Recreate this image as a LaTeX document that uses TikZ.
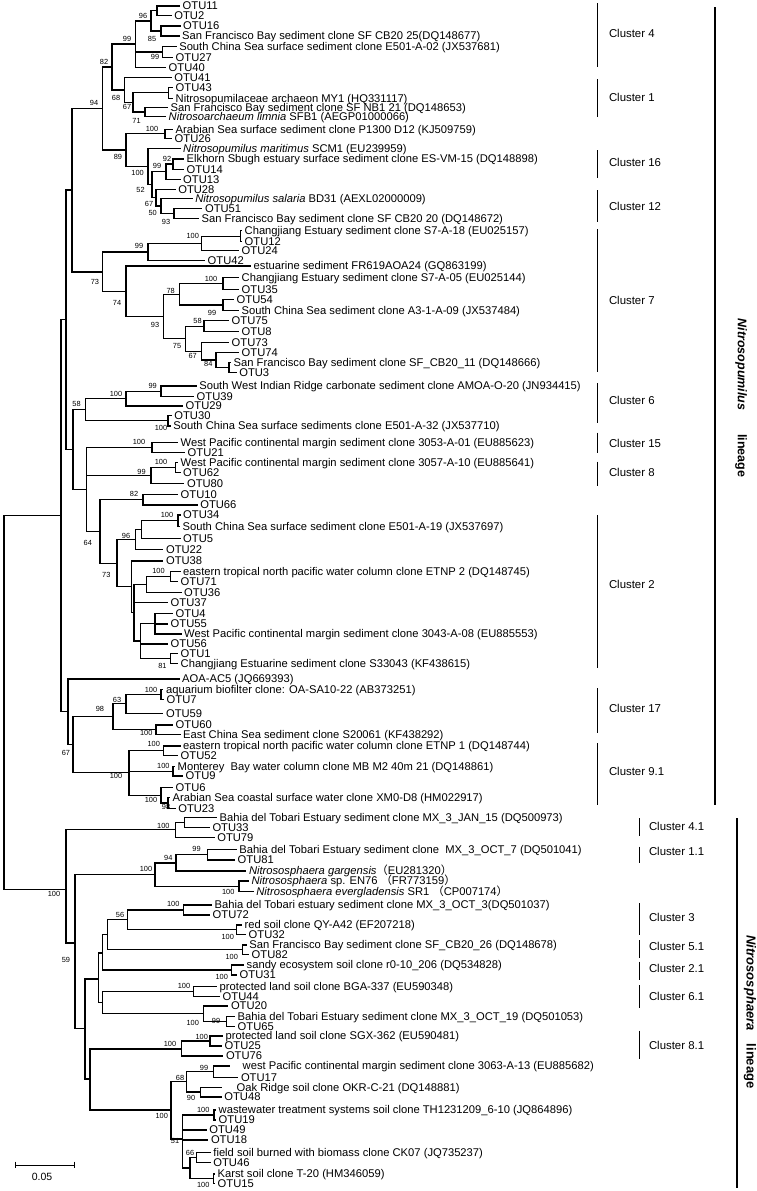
\documentclass[tikz,border=0pt]{standalone}
\usepackage{fontspec}
\setmainfont{Liberation Sans}
\newfontfamily\linfont{Liberation Sans}
\newfontfamily\cjkfont{Noto Sans CJK SC}
\newcommand{\fw}[1]{\smash{{\cjkfont #1}}}
\newcommand{\lf}[4]{\coordinate (#1) at (#2,#3); \node[leaflab] (#1-t) at (#1) {#4};}
\newcommand{\lfx}[5]{\coordinate (#1) at (#2,#3); \node[leaflab,xshift=0pt] (#1-t) at (#4,#3) {#5};}
\newcommand{\nd}[3]{\coordinate (#1) at (#2,#3);}
\newcommand{\kids}[2]{\foreach \ch in {#2} {\draw[branch] (#1) |- (\ch);}}
\newcommand{\bsv}[4]{\node[bsl] (#1) at (#2,#3) {#4};}
\newcommand{\clu}[7]{\coordinate (#1-a) at (#2,#3); \coordinate (#1-b) at (#2,#4); \draw[cbar] (#1-a) -- (#1-b); \node[clab] (#1-l) at (#5,#6) {#7};}
\begin{document}
\begin{tikzpicture}[x=1pt,y=-1pt,
  branch/.style={line width=1.1pt},
  leaflab/.style={anchor=base west,inner sep=0pt,xshift=2.5pt,yshift=-3.9pt,font=\fontsize{11.2}{13}\selectfont},
  bsl/.style={inner sep=0pt,font=\fontsize{7.4}{9}\selectfont},
  clab/.style={anchor=west,inner sep=0pt,font=\fontsize{11.4}{13}\selectfont},
  cbar/.style={line width=0.9pt},
  lbar/.style={line width=1.8pt},
  linlab/.style={rotate=-90,inner sep=0pt,font=\linfont\bfseries\fontsize{12.5}{14}\selectfont}]
\fill[white] (0,0) rectangle (757,1191);
\useasboundingbox (0,0) rectangle (757,1191);
% ---------------- leaves: Nitrosopumilus
\lf{otu11}{180}{6}{OTU11}
\lf{otu2}{171.7}{15.7}{OTU2}
\lf{otu16}{180.5}{26}{OTU16}
\lf{sfcb2025}{179.5}{36}{San Francisco Bay sediment clone SF CB20 25(DQ148677)}
\lf{scs02}{176.6}{46.7}{South China Sea surface sediment clone E501-A-02 (JX537681)}
\lf{otu27}{173}{57.3}{OTU27}
\lf{otu40}{166}{67.3}{OTU40}
\lf{otu41}{171.7}{77.7}{OTU41}
\lf{otu43}{173}{87.3}{OTU43}
\lf{my1}{173}{98.3}{Nitrosopumilaceae archaeon MY1 (HQ331117)}
\lf{sfnb}{168}{107.3}{San Francisco Bay sediment clone SF NB1 21 (DQ148653)}
\lf{limnia}{166}{116.7}{\textit{Nitrosoarchaeum limnia} SFB1 (AEGP01000066)}
\lf{p1300}{173}{129.3}{Arabian Sea surface sediment clone P1300 D12 (KJ509759)}
\lf{otu26}{172}{138.3}{OTU26}
\lf{scm1}{180.5}{148.3}{\textit{Nitrosopumilus maritimus} SCM1 (EU239959)}
\lf{elk}{184}{159}{Elkhorn Sbugh estuary surface sediment clone ES-VM-15 (DQ148898)}
\lf{otu14}{184}{169.3}{OTU14}
\lf{otu13}{180.5}{179.3}{OTU13}
\lf{otu28}{175.6}{189.3}{OTU28}
\lf{bd31}{192.7}{198.5}{\textit{Nitrosopumilus salaria} BD31 (AEXL02000009)}
\lf{otu51}{202.4}{208.5}{OTU51}
\lf{sfcb2020}{199}{218.8}{San Francisco Bay sediment clone SF CB20 20 (DQ148672)}
\lf{s7a18}{242}{230.7}{Changjiang Estuary sediment clone S7-A-18 (EU025157)}
\lf{otu12}{242}{241.7}{OTU12}
\lf{otu24}{239}{250.7}{OTU24}
\lf{otu42}{205}{260.7}{OTU42}
\lf{fr619}{251}{266}{estuarine sediment FR619AOA24 (GQ863199)}
\lf{s7a05}{239}{277.3}{Changjiang Estuary sediment clone S7-A-05 (EU025144)}
\lf{otu35}{239}{289.3}{OTU35}
\lf{otu54}{234}{299.3}{OTU54}
\lf{a3}{239}{310.7}{South China Sea sediment clone A3-1-A-09 (JX537484)}
\lf{otu75}{229}{320.7}{OTU75}
\lf{otu8}{239}{331.7}{OTU8}
\lf{otu73}{229}{342.7}{OTU73}
\lf{otu74}{239}{352.7}{OTU74}
\lf{sfcb2011}{231}{362.3}{San Francisco Bay sediment clone SF\_CB20\_11 (DQ148666)}
\lf{otu3}{236.6}{372.7}{OTU3}
\lf{swir}{196.6}{386}{South West Indian Ridge carbonate sediment clone AMOA-O-20 (JN934415)}
\lf{otu39}{194}{396.2}{OTU39}
\lf{otu29}{183}{406}{OTU29}
\lf{otu30}{171.7}{415.5}{OTU30}
\lf{scs32}{170.7}{426}{South China Sea surface sediments clone E501-A-32 (JX537710)}
\lf{wp3053}{178}{442.3}{West Pacific continental margin sediment clone 3053-A-01 (EU885623)}
\lf{otu21}{185}{452.7}{OTU21}
\lf{wp3057}{178}{462.3}{West Pacific continental margin sediment clone 3057-A-10 (EU885641)}
\lf{otu62}{180.5}{472.3}{OTU62}
\lf{otu80}{184.4}{483.3}{OTU80}
\lf{otu10}{178}{494.3}{OTU10}
\lf{otu66}{197.6}{505}{OTU66}
\lf{otu34}{180.5}{515}{OTU34}
\lf{scs19}{180}{526.7}{South China Sea surface sediment clone E501-A-19 (JX537697)}
\lf{otu5}{180.5}{538.3}{OTU5}
\lf{otu22}{163.4}{549.3}{OTU22}
\lf{otu38}{163.4}{561}{OTU38}
\lf{etnp2}{180.5}{571.7}{eastern tropical north pacific water column clone ETNP 2 (DQ148745)}
\lf{otu71}{178}{581.7}{OTU71}
\lf{otu36}{181.5}{592.7}{OTU36}
\lf{otu37}{168}{602.3}{OTU37}
\lf{otu4}{173}{613.3}{OTU4}
\lf{otu55}{168}{624}{OTU55}
\lf{wp3043}{181.5}{634}{West Pacific continental margin sediment clone 3043-A-08 (EU885553)}
\lf{otu56}{168}{644}{OTU56}
\lf{otu1}{178}{653.3}{OTU1}
\lf{s33043}{178}{663.3}{Changjiang Estuarine sediment clone S33043 (KF438615)}
\lf{ac5}{179.5}{679}{AOA-AC5 (JQ669393)}
\lf{oasa}{163.4}{689.3}{aquarium biofilter clone: OA-SA10-22 (AB373251)}
\lf{otu7}{164}{699.3}{OTU7}
\lf{otu59}{163.4}{713.3}{OTU59}
\lf{otu60}{173}{725}{OTU60}
\lf{s20061}{180.5}{734.3}{East China Sea sediment clone S20061 (KF438292)}
\lf{etnp1}{180.5}{746}{eastern tropical north pacific water column clone ETNP 1 (DQ148744)}
\lf{otu52}{178}{755.5}{OTU52}
\lf{mb}{175}{766.7}{Monterey\ \ Bay water column clone MB M2 40m 21 (DQ148861)}
\lf{otu9}{183}{776}{OTU9}
\lf{otu6}{173}{787.3}{OTU6}
\lf{xm0}{170}{797.7}{Arabian Sea coastal surface water clone XM0-D8 (HM022917)}
\lf{otu23}{175.6}{808.3}{OTU23}
% ---------------- leaves: Nitrososphaera
\lf{jan15}{217}{817.3}{Bahia del Tobari Estuary sediment clone MX\_3\_JAN\_15 (DQ500973)}
\lf{otu33}{209.8}{827.3}{OTU33}
\lf{otu79}{214.6}{837.3}{OTU79}
\lf{oct7}{236.6}{849.7}{Bahia del Tobari Estuary sediment clone\ \ MX\_3\_OCT\_7 (DQ501041)}
\lf{otu81}{235}{860}{OTU81}
\lf{garg}{246.3}{871}{\textit{Nitrososphaera gargensis}\fw{（}EU281320\fw{）}}
\lf{en76}{248.8}{881}{\textit{Nitrososphaera} sp. EN76 \fw{（}FR773159\fw{）}}
\lf{sr1}{253.7}{891.8}{\textit{Nitrososphaera evergladensis} SR1 \fw{（}CP007174\fw{）}}
\lf{oct3}{212}{905}{Bahia del Tobari estuary sediment clone MX\_3\_OCT\_3(DQ501037)}
\lf{otu72}{210}{915}{OTU72}
\lf{qy}{242}{925}{red soil clone QY-A42 (EF207218)}
\lf{otu32}{246}{934.5}{OTU32}
\lf{cb2026}{246.7}{945}{San Francisco Bay sediment clone SF\_CB20\_26 (DQ148678)}
\lf{otu82}{249}{954.5}{OTU82}
\lf{sandy}{244}{965}{sandy ecosystem soil clone r0-10\_206 (DQ534828)}
\lf{otu31}{237}{975}{OTU31}
\lf{bga}{217}{986.8}{protected land soil clone BGA-337 (EU590348)}
\lf{otu44}{220}{996.3}{OTU44}
\lf{otu20}{228.3}{1006}{OTU20}
\lf{oct19}{235}{1016.7}{Bahia del Tobari Estuary sediment clone MX\_3\_OCT\_19 (DQ501053)}
\lf{otu65}{235}{1026.3}{OTU65}
\lf{sgx}{223}{1036}{protected land soil clone SGX-362 (EU590481)}
\lf{otu25}{222}{1046}{OTU25}
\lf{otu76}{223.3}{1056}{OTU76}
\lfx{wp3063}{230}{1066}{240}{west Pacific continental margin sediment clone 3063-A-13 (EU885682)}
\lf{otu17}{238.3}{1077.3}{OTU17}
\lfx{okr}{221.7}{1087.3}{234}{Oak Ridge soil clone OKR-C-21 (DQ148881)}
\lf{otu48}{221.7}{1097}{OTU48}
\lf{th}{216}{1110}{wastewater treatment systems soil clone TH1231209\_6-10 (JQ864896)}
\lf{otu19}{216}{1120}{OTU19}
\lf{otu49}{206.7}{1130}{OTU49}
\lf{otu18}{208.3}{1140}{OTU18}
\lf{ck07}{210.7}{1152.3}{field soil burned with biomass clone CK07 (JQ735237)}
\lf{otu46}{210.7}{1162.3}{OTU46}
\lf{karst}{215}{1174}{Karst soil clone T-20 (HM346059)}
\lf{otu15}{215}{1183.5}{OTU15}
% ---------------- internal nodes
\nd{n96}{157}{10.9} \kids{n96}{otu11,otu2}
\nd{n85}{161}{31} \kids{n85}{otu16,sfcb2025}
\nd{nA}{151}{21} \kids{nA}{n96,n85}
\nd{n99b}{162.4}{52} \kids{n99b}{scs02,otu27}
\nd{n99}{135.6}{44} \kids{n99}{nA,n99b,otu40}
\nd{nMY}{168.3}{92.8} \kids{nMY}{otu43,my1}
\nd{n71}{145}{112} \kids{n71}{sfnb,limnia}
\nd{n67}{133}{102.4} \kids{n67}{nMY,n71}
\nd{n68}{124.4}{90} \kids{n68}{otu41,n67}
\nd{n82}{112}{67} \kids{n82}{n99,n68}
\nd{n100a}{165}{133.8} \kids{n100a}{p1300,otu26}
\nd{n92}{173}{164} \kids{n92}{elk,otu14}
\nd{n99c}{166}{171.7} \kids{n99c}{n92,otu13}
\nd{n93}{174}{213.6} \kids{n93}{otu51,sfcb2020}
\nd{n50}{161}{206} \kids{n50}{bd31,n93}
\nd{n67s}{156}{197.6} \kids{n67s}{otu28,n50}
\nd{n52}{152}{184.6} \kids{n52}{n99c,n67s}
\nd{n100b}{148}{166.4} \kids{n100b}{scm1,n52}
\nd{n89}{126}{150} \kids{n89}{n100a,n100b}
\nd{n94}{102.4}{108.5} \kids{n94}{n82,n89}
\nd{nS7}{240.5}{236.2} \kids{nS7}{s7a18,otu12}
\nd{n100c}{201.5}{243.5} \kids{n100c}{nS7,otu24}
\nd{n99d}{148}{252} \kids{n99d}{n100c,otu42}
\nd{n100d}{223}{283.3} \kids{n100d}{s7a05,otu35}
\nd{n99e}{223}{305} \kids{n99e}{otu54,a3}
\nd{n78}{179.5}{294.2} \kids{n78}{n100d,n99e}
\nd{n58}{204}{326.2} \kids{n58}{otu75,otu8}
\nd{nSF}{229}{367.5} \kids{nSF}{sfcb2011,otu3}
\nd{n84}{216}{360} \kids{n84}{otu74,nSF}
\nd{n67b}{201.5}{351.4} \kids{n67b}{otu73,n84}
\nd{n75}{185.4}{338.8} \kids{n75}{n58,n67b}
\nd{n93b}{163.4}{316.5} \kids{n93b}{n78,n75}
\nd{n74}{126}{291.8} \kids{n74}{fr619,n93b}
\nd{n73}{102.4}{272} \kids{n73}{n99d,n74}
\nd{P}{72}{190} \kids{P}{n94,n73}
\nd{n99f}{161}{391.1} \kids{n99f}{swir,otu39}
\nd{n100e}{126}{398.5} \kids{n100e}{n99f,otu29}
\nd{n100f}{168}{420.7} \kids{n100f}{otu30,scs32}
\nd{n58b}{85.4}{409.6} \kids{n58b}{n100e,n100f}
\nd{n100g}{152}{447.5} \kids{n100g}{wp3053,otu21}
\nd{n100h}{175.6}{467.3} \kids{n100h}{wp3057,otu62}
\nd{n99g}{151}{475.3} \kids{n99g}{n100h,otu80}
\nd{n82b}{143}{499.7} \kids{n82b}{otu10,otu66}
\nd{n100i}{178}{520.9} \kids{n100i}{otu34,scs19}
\nd{nB}{141.5}{529.6} \kids{nB}{n100i,otu5}
\nd{n96b}{135.6}{539.5} \kids{n96b}{nB,otu22}
\nd{n100j}{170.7}{576.7} \kids{n100j}{etnp2,otu71}
\nd{nE}{146.3}{584.7} \kids{nE}{n100j,otu36}
\nd{nG}{155}{623.7} \kids{nG}{otu4,otu55,wp3043}
\nd{n81}{170.7}{658.3} \kids{n81}{otu1,s33043}
\nd{nF}{140.5}{641} \kids{nF}{nG,otu56,n81}
\nd{nD}{134}{612.8} \kids{nD}{nE,otu37,nF}
\nd{nC}{131.7}{586.9} \kids{nC}{otu38,nD}
\nd{n73b}{117}{563.2} \kids{n73b}{n96b,nC}
\nd{n64}{100}{531.5} \kids{n64}{n82b,n73b}
\nd{U}{86.8}{489.5} \kids{U}{n100g,n99g,n64}
\nd{T}{73}{449.5} \kids{T}{n58b,U}
\nd{Q}{66}{319.8} \kids{Q}{P,T}
\nd{n100m}{161}{694.3} \kids{n100m}{oasa,otu7}
\nd{n63}{126}{703.8} \kids{n63}{n100m,otu59}
\nd{n100l}{156}{729.7} \kids{n100l}{otu60,s20061}
\nd{n98}{113}{716.7} \kids{n98}{n63,n100l}
\nd{n100n}{163.4}{750.7} \kids{n100n}{etnp1,otu52}
\nd{n100o}{173}{771.3} \kids{n100o}{mb,otu9}
\nd{n98b}{168}{803} \kids{n98b}{xm0,otu23}
\nd{n100p}{161}{795.2} \kids{n100p}{otu6,n98b}
\nd{n100q}{129}{772.8} \kids{n100q}{n100n,n100o,n100p}
\nd{n67c}{73}{744.8} \kids{n67c}{n98,n100q}
\nd{V}{68}{711.9} \kids{V}{ac5,n67c}
\nd{N1}{61}{515.9} \kids{N1}{Q,V}
\nd{nJ}{184.4}{822.3} \kids{nJ}{jan15,otu33}
\nd{n100r}{175.6}{829.8} \kids{n100r}{nJ,otu79}
\nd{n99h}{207.3}{854.9} \kids{n99h}{oct7,otu81}
\nd{n94b}{176}{863} \kids{n94b}{n99h,garg}
\nd{n100s}{239}{886.4} \kids{n100s}{en76,sr1}
\nd{n100t}{155}{874.6} \kids{n100t}{n94b,n100s}
\nd{n100u}{183.3}{910} \kids{n100u}{oct3,otu72}
\nd{n100v}{236.7}{929.7} \kids{n100v}{qy,otu32}
\nd{n56}{127.7}{919.8} \kids{n56}{n100u,n100v}
\nd{n100w}{242.7}{949.7} \kids{n100w}{cb2026,otu82}
\nd{nK}{107.7}{934.7} \kids{nK}{n56,n100w}
\nd{n100x}{231.7}{970} \kids{n100x}{sandy,otu31}
\nd{nL}{102.7}{953} \kids{nL}{nK,n100x}
\nd{n100y}{193.3}{991.5} \kids{n100y}{bga,otu44}
\nd{n99i}{226.7}{1021.5} \kids{n99i}{oct19,otu65}
\nd{n100z}{203.3}{1013.7} \kids{n100z}{otu20,n99i}
\nd{nS}{102.7}{1002.6} \kids{nS}{n100y,n100z}
\nd{X5}{98.3}{979} \kids{X5}{nL,nS}
\nd{n100aa}{210}{1041} \kids{n100aa}{sgx,otu25}
\nd{n100ab}{181.7}{1049} \kids{n100ab}{n100aa,otu76}
\nd{n99j}{213.3}{1071.7} \kids{n99j}{wp3063,otu17}
\nd{n90}{200.7}{1092} \kids{n90}{okr,otu48}
\nd{n68b}{186.7}{1081.9} \kids{n68b}{n99j,n90}
\nd{n100ac}{214}{1115} \kids{n100ac}{th,otu19}
\nd{n66}{196.7}{1157.3} \kids{n66}{ck07,otu46}
\nd{nKarst}{213.3}{1178.7} \kids{nKarst}{karst,otu15}
\nd{nP}{190}{1168} \kids{nP}{n66,nKarst}
\nd{n51}{182.7}{1139} \kids{n51}{n100ac,otu49,otu18,nP}
\nd{nQ}{171}{1110} \kids{nQ}{n68b,n51}
\nd{X6}{90}{1079} \kids{X6}{n100ab,nQ}
\nd{X7}{85}{1028.5} \kids{X7}{X5,X6}
\nd{X3}{75}{943} \kids{X3}{n100t,X7}
\nd{X1}{66}{889.5} \kids{X1}{n100r,X3}
\nd{R}{4}{703} \kids{R}{N1,X1}
% ---------------- bootstrap values
\bsv{b1}{143}{15.7}{96}
\bsv{b2}{152}{39}{85}
\bsv{b3}{127}{39}{99}
\bsv{b4}{155}{57}{99}
\bsv{b5}{104}{62}{82}
\bsv{b6}{116}{98}{68}
\bsv{b7}{94}{103}{94}
\bsv{b8}{127}{107}{67}
\bsv{b9}{136.6}{120.7}{71}
\bsv{b10}{152}{129.3}{100}
\bsv{b11}{118}{156.7}{89}
\bsv{b12}{167}{159}{92}
\bsv{b13}{157}{165.7}{99}
\bsv{b14}{137.6}{173.3}{100}
\bsv{b15}{140.5}{190}{52}
\bsv{b16}{149}{204}{67}
\bsv{b17}{152.7}{212.7}{50}
\bsv{b18}{166}{221.5}{93}
\bsv{b19}{192.7}{236}{100}
\bsv{b20}{139}{246}{99}
\bsv{b21}{95}{281.7}{73}
\bsv{b22}{211}{279}{100}
\bsv{b23}{170.7}{290.7}{78}
\bsv{b24}{117}{302.7}{74}
\bsv{b25}{212}{313.3}{99}
\bsv{b26}{155}{325}{93}
\bsv{b27}{197.6}{320.7}{58}
\bsv{b28}{177}{346}{75}
\bsv{b29}{192.7}{356}{67}
\bsv{b30}{208.3}{364}{84}
\bsv{b31}{152.7}{386}{99}
\bsv{b32}{116}{394.3}{100}
\bsv{b33}{76.6}{404}{58}
\bsv{b34}{161}{428.3}{100}
\bsv{b35}{139}{442.3}{100}
\bsv{b36}{161}{462.3}{100}
\bsv{b37}{141.5}{472.3}{99}
\bsv{b38}{134}{494.3}{82}
\bsv{b39}{167}{515}{100}
\bsv{b40}{126}{536}{96}
\bsv{b41}{87.8}{542.7}{64}
\bsv{b42}{106.3}{575}{73}
\bsv{b43}{158.5}{571}{100}
\bsv{b44}{162.4}{665.7}{81}
\bsv{b45}{151}{690}{100}
\bsv{b46}{117}{700}{63}
\bsv{b47}{100}{709.3}{98}
\bsv{b48}{146.3}{733.3}{100}
\bsv{b49}{66}{753.3}{67}
\bsv{b50}{153.7}{744}{100}
\bsv{b51}{163.4}{766}{100}
\bsv{b52}{116}{776}{100}
\bsv{b53}{151}{800}{100}
\bsv{b54}{166}{806.7}{98}
\bsv{b55}{163.4}{826}{100}
\bsv{b56}{196.6}{849.3}{99}
\bsv{b57}{168.3}{858.3}{94}
\bsv{b58}{146}{869}{100}
\bsv{b59}{228.3}{891.5}{100}
\bsv{b60}{54}{894}{100}
\bsv{b61}{173.3}{904.3}{100}
\bsv{b62}{120}{915}{56}
\bsv{b63}{227.7}{936.7}{100}
\bsv{b64}{231.7}{957.3}{100}
\bsv{b65}{66}{960}{59}
\bsv{b66}{221.7}{977.3}{100}
\bsv{b67}{184}{986}{100}
\bsv{b68}{192.7}{1022.7}{100}
\bsv{b69}{216}{1021}{99}
\bsv{b70}{201.7}{1036.7}{100}
\bsv{b71}{170}{1044}{100}
\bsv{b72}{204}{1068.3}{99}
\bsv{b73}{180}{1077.7}{68}
\bsv{b74}{191}{1098.3}{90}
\bsv{b75}{203.3}{1110}{100}
\bsv{b76}{161.7}{1116}{100}
\bsv{b77}{175}{1141}{51}
\bsv{b78}{190}{1153.3}{66}
\bsv{b79}{203.3}{1185}{100}
% ---------------- clusters
\clu{c4}{597}{3.3}{66.7}{608.8}{33.3}{Cluster 4}
\clu{c1}{597}{79.3}{116.7}{608.8}{97.7}{Cluster 1}
\clu{c16}{597}{150}{178.3}{608.8}{162.3}{Cluster 16}
\clu{c12}{597}{190}{221.7}{608.8}{206}{Cluster 12}
\clu{c7}{597}{229.3}{371.7}{608.8}{300}{Cluster 7}
\clu{c6}{597}{383.3}{422.7}{608.8}{400}{Cluster 6}
\clu{c15}{597}{432.7}{453.3}{608.8}{443.3}{Cluster 15}
\clu{c8}{597}{461.7}{486}{608.8}{472.7}{Cluster 8}
\clu{c2}{597}{515}{668.3}{608.8}{584}{Cluster 2}
\clu{c17}{597}{688.3}{732.7}{608.8}{708.3}{Cluster 17}
\clu{c91}{597}{743.3}{805}{608.8}{771.7}{Cluster 9.1}
\clu{c41}{639}{818.3}{836}{648.8}{826}{Cluster 4.1}
\clu{c11}{639}{846.7}{863.3}{648.8}{851.7}{Cluster 1.1}
\clu{c3}{639}{903.3}{935}{648.8}{917.3}{Cluster 3}
\clu{c51}{639}{940}{958.3}{648.8}{946.7}{Cluster 5.1}
\clu{c21}{639}{961.7}{980}{648.8}{968.3}{Cluster 2.1}
\clu{c61}{639}{985}{1008.3}{648.8}{996.7}{Cluster 6.1}
\clu{c81}{639}{1030.7}{1059.3}{648.8}{1045}{Cluster 8.1}
% ---------------- lineages
\coordinate (la1) at (714.6,7.3); \coordinate (lb1) at (714.6,805);
\draw[lbar] (la1) -- (lb1);
\node[linlab] (lin1) at (741,398) {{\itshape Nitrosopumilus}\hspace{24pt}lineage};
\coordinate (la2) at (736.6,818.3); \coordinate (lb2) at (736.6,1188);
\draw[lbar] (la2) -- (lb2);
\node[linlab,font=\linfont\bfseries\fontsize{13}{15}\selectfont] (lin2) at (750,1012) {{\itshape Nitrososphaera}\hspace{13pt}lineage};
% ---------------- scale bar
\coordinate (sbL) at (15.6,1165); \coordinate (sbR) at (74.1,1165);
\draw[line width=1pt] (sbL) -- (sbR);
\draw[line width=1pt] ([yshift=3.3pt]sbL) -- ([yshift=-3.3pt]sbL);
\draw[line width=1pt] ([yshift=3.3pt]sbR) -- ([yshift=-3.3pt]sbR);
\node[inner sep=0pt,font=\fontsize{10.5}{12}\selectfont] (sbt) at (42,1177) {0.05};
\end{tikzpicture}
\end{document}
